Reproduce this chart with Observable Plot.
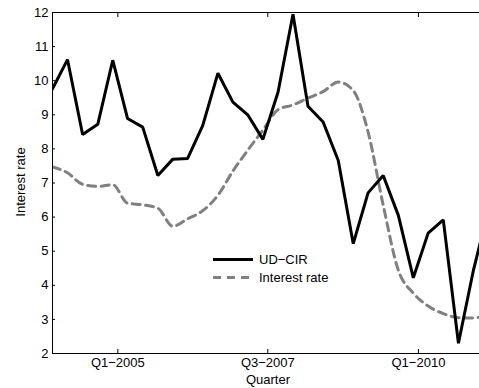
<!DOCTYPE html>
<html>
<head>
<meta charset="utf-8">
<script src="https://cdn.jsdelivr.net/npm/d3@7"></script>
<script src="https://cdn.jsdelivr.net/npm/@observablehq/plot@0.6"></script>
<style>
  html, body { margin: 0; padding: 0; background: #fff; }
  #wrap { position: relative; width: 479px; height: 388px; overflow: hidden; font-family: "Liberation Sans", Arial, sans-serif; }
  #legend { position: absolute; left: 0; top: 0; pointer-events: none; }
</style>
</head>
<body>
<div id="wrap"></div>
<script>
// Quarterly observations (first at Dec 2003)
const udCir = [9.76, 10.62, 8.42, 8.72, 10.6, 8.89, 8.64, 7.22, 7.70, 7.72,
               8.69, 10.22, 9.37, 9.0, 8.28, 9.66, 11.95, 9.25, 8.79, 7.66,
               5.22, 6.71, 7.22, 6.05, 4.22, 5.53, 5.92, 2.3, 4.44, 6.2];
const interestRate = [7.47, 7.3, 6.96, 6.90, 6.95, 6.41, 6.36, 6.26, 5.73, 5.95,
                      6.19, 6.64, 7.35, 7.96, 8.55, 9.15, 9.29, 9.49, 9.68, 9.96,
                      9.71, 8.5, 6.35, 4.44, 3.77, 3.39, 3.17, 3.05, 3.04, 3.15];
const seriesNames = ["UD\u2212CIR", "Interest rate"];
const tickLabels = ["Q1\u22122005", "Q3\u22122007", "Q1\u22122010"];
const tickDates = [new Date(2005, 0, 1), new Date(2007, 6, 1), new Date(2010, 0, 1)];
const yTicks = [2, 3, 4, 5, 6, 7, 8, 9, 10, 11, 12];

const dates = udCir.map((_, i) => new Date(2003, 11 + 3 * i, 1));
const rows = dates.map((d, i) => ({date: d, ud: udCir[i], ir: interestRate[i]}));

const xDomain = [new Date(2003, 11, 1), new Date(2011, 0, 7)];
const font = "Liberation Sans, Arial, sans-serif";

const chart = Plot.plot({
  width: 479,
  height: 388,
  marginLeft: 52,
  marginRight: 0,
  marginTop: 12,
  marginBottom: 35,
  style: {fontFamily: font, fontSize: "13px", color: "#000", background: "#fff"},
  x: {type: "utc", domain: xDomain},
  y: {domain: [2, 12]},
  marks: [
    Plot.line(rows, {x: "date", y: "ir", stroke: "#808080", strokeWidth: 3, strokeDasharray: "8,5.5", curve: "monotone-x", clip: true}),
    Plot.line(rows, {x: "date", y: "ud", stroke: "#000", strokeWidth: 3, strokeLinejoin: "miter", clip: true}),
    Plot.ruleY([2, 12], {stroke: "#000", strokeWidth: 1}),
    Plot.ruleX([xDomain[0]], {stroke: "#000", strokeWidth: 1}),
    Plot.axisY({ticks: yTicks, tickSize: -3, tickPadding: 7, label: null, fontSize: 13, tickFormat: d => d}),
    Plot.axisX({ticks: tickDates, tickSize: -4, tickPadding: 8, label: null, fontSize: 13,
                tickFormat: (d) => tickLabels[tickDates.findIndex(t => +t === +d)]}),
    Plot.axisX({anchor: "top", ticks: tickDates, tickSize: -4, label: null, tickFormat: () => ""})
  ]
});

const wrap = document.getElementById("wrap");
wrap.appendChild(chart);

// axis titles and legend overlay
const ns = "http://www.w3.org/2000/svg";
const ov = document.createElementNS(ns, "svg");
ov.setAttribute("id", "legend");
ov.setAttribute("width", 479);
ov.setAttribute("height", 388);
ov.setAttribute("font-family", font);
ov.setAttribute("font-size", 13);
ov.innerHTML = `
  <text x="268" y="384" text-anchor="middle">Quarter</text>
  <text transform="translate(25,182) rotate(-90)" text-anchor="middle">Interest rate</text>
  <line x1="213" x2="253" y1="259.5" y2="259.5" stroke="#000" stroke-width="3"/>
  <line x1="213" x2="253" y1="277.5" y2="277.5" stroke="#808080" stroke-width="3" stroke-dasharray="8,6"/>
  <text x="259" y="259.5" dy="0.36em">${seriesNames[0]}</text>
  <text x="259" y="277.5" dy="0.36em">${seriesNames[1]}</text>
`;
wrap.appendChild(ov);
</script>
</body>
</html>
